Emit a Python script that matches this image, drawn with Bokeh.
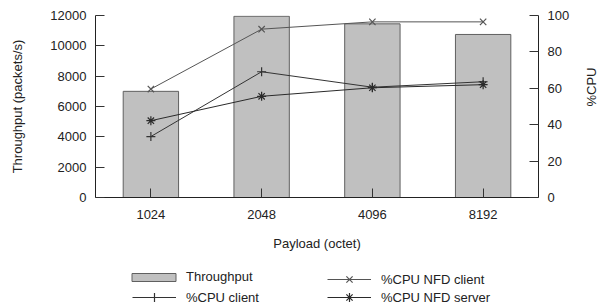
import math
from bokeh.plotting import figure
from bokeh.layouts import column
from bokeh.models import Range1d, LinearAxis, Legend, LegendItem, FactorRange, FixedTicker
from bokeh.embed import file_html
from bokeh.resources import INLINE

payloads = ["1024", "2048", "4096", "8192"]
throughput = [7000, 11950, 11450, 10750]
cpu_nfd_client = [59.6, 92.5, 96.5, 96.5]
cpu_client = [33.5, 69.1, 60.6, 63.6]
cpu_nfd_server = [42.2, 55.6, 60.3, 62.0]
throughput_ticks = [0, 2000, 4000, 6000, 8000, 10000, 12000]
cpu_ticks = [0, 20, 40, 60, 80, 100]

FONT = "Liberation Sans"
TXT = "#222222"
BAR_FILL = "#c0c0c0"
BAR_LINE = "#606060"
C1 = "#555555"
C2 = "#333333"
C3 = "#2a2a2a"

p = figure(width=609, height=260, x_range=FactorRange(*payloads, range_padding=0),
           y_range=Range1d(0, 12000), output_backend="svg", toolbar_location=None,
           min_border_left=95, min_border_top=15, min_border_right=68, min_border_bottom=63)
p.extra_y_ranges = {"cpu": Range1d(0, 100)}
p.outline_line_color = None
p.xgrid.visible = False
p.ygrid.visible = False

p.vbar(x=payloads, top=throughput, width=0.5, fill_color=BAR_FILL, line_color=BAR_LINE, line_width=1)
p.line(payloads, cpu_nfd_client, y_range_name="cpu", line_color=C1, line_width=1)
p.scatter(payloads, cpu_nfd_client, y_range_name="cpu", marker="x", size=9, line_color=C1, line_width=1.2)
p.line(payloads, cpu_client, y_range_name="cpu", line_color=C2, line_width=1)
p.scatter(payloads, cpu_client, y_range_name="cpu", marker="cross", size=9, line_color=C2, line_width=1.2)
p.line(payloads, cpu_nfd_server, y_range_name="cpu", line_color=C3, line_width=1)
p.scatter(payloads, cpu_nfd_server, y_range_name="cpu", marker="asterisk", size=9, line_color=C3, line_width=1.2)

def style(ax):
    ax.major_tick_in = 9
    ax.major_tick_out = 0
    ax.minor_tick_in = 0
    ax.minor_tick_out = 0
    ax.axis_line_color = "#222222"
    ax.major_tick_line_color = "#333333"
    ax.major_label_text_font = FONT
    ax.major_label_text_font_size = "13px"
    ax.major_label_text_color = TXT
    ax.axis_label_text_font = FONT
    ax.axis_label_text_font_size = "13px"
    ax.axis_label_text_font_style = "normal"
    ax.axis_label_text_color = TXT

p.yaxis.ticker = FixedTicker(ticks=throughput_ticks)
p.yaxis.axis_label = "Throughput (packets/s)"
style(p.yaxis[0])
p.yaxis.major_label_standoff = 9
p.yaxis.axis_label_standoff = 22

p.xaxis.axis_label = "Payload (octet)"
style(p.xaxis[0])
p.xaxis.major_label_standoff = 12
p.xaxis.axis_label_standoff = 14

ry = LinearAxis(y_range_name="cpu", axis_label="%CPU", ticker=FixedTicker(ticks=cpu_ticks))
style(ry)
ry.major_label_standoff = 9
ry.axis_label_standoff = 19
if "axis_label_orientation" in ry.properties():
    ry.axis_label_orientation = math.pi / 2
p.add_layout(ry, "right")

# legend strip (separate figure; its frame is aligned with the main frame)
lg = figure(width=609, height=45, x_range=Range1d(0, 1), y_range=Range1d(0, 1),
            output_backend="svg", toolbar_location=None,
            min_border_left=0, min_border_right=0, min_border_top=0, min_border_bottom=0)
lg.axis.visible = False
lg.grid.visible = False
lg.outline_line_color = None

ox = [-5]
oy = [-5]
rb = lg.vbar(x=ox, top=oy, bottom=-6, width=0.5, fill_color=BAR_FILL, line_color=BAR_LINE, line_width=1)
r1l = lg.line(x=ox, y=oy, line_color=C1, line_width=1)
r1m = lg.scatter(x=ox, y=oy, marker="x", line_color=C1, line_width=1.2)
r2l = lg.line(x=ox, y=oy, line_color=C2, line_width=1)
r2m = lg.scatter(x=ox, y=oy, marker="cross", line_color=C2, line_width=1.2)
r3l = lg.line(x=ox, y=oy, line_color=C3, line_width=1)
r3m = lg.scatter(x=ox, y=oy, marker="asterisk", line_color=C3, line_width=1.2)

def mk_legend(label, renderers, loc, gw, gh, standoff):
    L = Legend(items=[LegendItem(label=label, renderers=renderers)], location=loc)
    L.label_text_font = FONT
    L.label_text_font_size = "13px"
    L.label_text_color = TXT
    L.glyph_width = gw
    L.glyph_height = gh
    L.label_height = gh
    L.label_standoff = standoff
    L.padding = 0
    L.margin = 0
    L.spacing = 0
    L.border_line_color = None
    L.background_fill_alpha = 0
    lg.add_layout(L, "center")

mk_legend("Throughput", [rb], (31, 21), 55, 10, 5)
mk_legend("%CPU client", [r2l, r2m], (37, -3), 44, 22, 10)
mk_legend("%CPU NFD client", [r1l, r1m], (232, 15), 44, 22, 10)
mk_legend("%CPU NFD server", [r3l, r3m], (232, -3), 44, 22, 10)

layout = column(p, lg, spacing=0)
open("out.html", "w").write(file_html(layout, INLINE))
